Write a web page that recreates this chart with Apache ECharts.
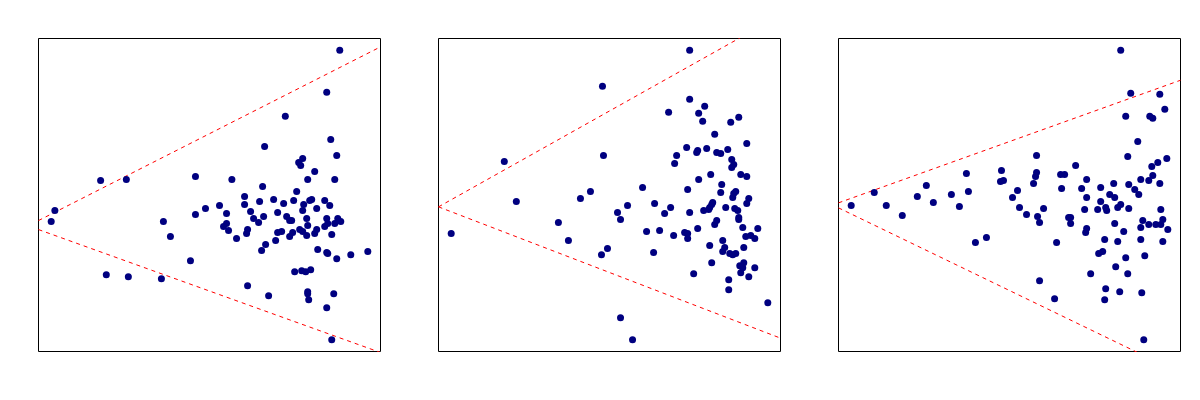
<!DOCTYPE html>
<html>
<head>
<meta charset="utf-8">
<title>funnel scatter</title>
<script src="https://cdn.jsdelivr.net/npm/echarts@6/dist/echarts.min.js"></script>
<style>
  html, body { margin: 0; padding: 0; background: #fff; }
  #chart { width: 1200px; height: 400px; }
</style>
</head>
<body>
<div id="chart"></div>
<script>
// axis ranges (shared by the three panels)
var xRange = [0, 1024]
var yRange = [0, 937]

// panel 1 points [x, y]
var panel1 = [
  [902, 902], [863, 776], [739, 704], [875, 635], [677, 614], [893, 587], [791, 578], [779, 566],
  [785, 557], [827, 539], [186, 512], [263, 515], [470, 524], [579, 515], [806, 515], [887, 515],
  [671, 494], [773, 479], [617, 464], [662, 449], [704, 455], [734, 443], [764, 452], [812, 452],
  [818, 455], [857, 452], [794, 440], [872, 437], [617, 440], [542, 437], [500, 428], [49, 422],
  [563, 413], [635, 419], [716, 416], [791, 422], [833, 428], [470, 410], [674, 404], [644, 398],
  [659, 386], [743, 404], [752, 392], [758, 392], [803, 398], [863, 398], [896, 398], [38, 389],
  [374, 389], [563, 383], [554, 374], [569, 362], [626, 365], [623, 353], [806, 377], [833, 365],
  [857, 374], [866, 383], [887, 383], [905, 389], [716, 356], [728, 359], [761, 356], [752, 344],
  [782, 365], [791, 359], [803, 347], [827, 353], [878, 350], [395, 344], [593, 338], [710, 332],
  [680, 320], [668, 302], [836, 305], [863, 296], [866, 293], [893, 278], [935, 290], [986, 299],
  [455, 272], [203, 230], [269, 224], [368, 218], [767, 239], [788, 242], [800, 239], [815, 245],
  [626, 197], [689, 167], [806, 179], [806, 173], [809, 155], [884, 173], [863, 131], [878, 35]
]

// panel 2 points [x, y]
var panel2 = [
  [752, 902], [491, 794], [752, 755], [797, 734], [689, 716], [779, 713], [899, 701], [791, 689],
  [875, 686], [827, 650], [923, 623], [743, 611], [803, 608], [776, 602], [773, 596], [833, 596],
  [845, 593], [866, 605], [713, 587], [494, 587], [197, 569], [707, 563], [878, 575], [884, 560],
  [878, 551], [905, 530], [923, 524], [815, 530], [779, 515], [848, 500], [611, 491], [746, 485],
  [455, 479], [845, 476], [890, 479], [884, 473], [881, 461], [929, 458], [923, 443], [425, 458],
  [233, 449], [647, 443], [821, 446], [818, 440], [566, 437], [695, 431], [860, 431], [812, 431],
  [809, 425], [794, 422], [887, 428], [896, 422], [536, 416], [677, 413], [752, 416], [899, 401],
  [899, 395], [545, 395], [833, 392], [827, 380], [359, 386], [911, 371], [956, 368], [776, 368],
  [662, 362], [623, 359], [737, 356], [746, 353], [746, 338], [704, 347], [920, 344], [935, 347],
  [947, 338], [38, 353], [389, 332], [851, 332], [812, 317], [857, 311], [851, 299], [914, 311],
  [506, 308], [488, 290], [644, 296], [872, 293], [881, 290], [890, 293], [914, 266], [902, 257],
  [911, 251], [905, 236], [947, 251], [929, 224], [818, 266], [764, 233], [869, 215], [869, 185],
  [986, 146], [545, 101], [581, 35]
]

// panel 3 points [x, y]
var panel3 = [
  [845, 902], [875, 773], [962, 770], [977, 725], [860, 704], [932, 704], [941, 698], [896, 629],
  [593, 587], [866, 584], [983, 578], [956, 566], [938, 554], [710, 557], [383, 533], [488, 542],
  [593, 536], [590, 524], [665, 530], [677, 530], [941, 527], [929, 512], [905, 515], [743, 515],
  [485, 509], [494, 512], [584, 503], [824, 503], [869, 500], [962, 503], [263, 497], [107, 476],
  [389, 479], [338, 470], [536, 482], [668, 488], [728, 488], [785, 491], [887, 485], [899, 470],
  [812, 470], [827, 461], [236, 464], [521, 461], [743, 461], [785, 449], [284, 446], [38, 437],
  [143, 437], [362, 434], [542, 431], [614, 428], [845, 440], [836, 431], [800, 431], [803, 422],
  [776, 425], [737, 425], [869, 428], [965, 425], [191, 407], [563, 410], [596, 404], [602, 386],
  [689, 401], [695, 401], [695, 383], [827, 383], [911, 392], [971, 395], [929, 380], [950, 380],
  [965, 380], [905, 371], [986, 365], [743, 368], [740, 356], [854, 359], [443, 341], [410, 326],
  [653, 326], [797, 335], [836, 329], [905, 335], [971, 329], [791, 299], [779, 293], [917, 287],
  [860, 281], [830, 254], [755, 233], [866, 233], [602, 212], [800, 188], [842, 179], [908, 176],
  [647, 158], [797, 155], [914, 35]
]

// dashed limit lines: [upper, lower], each from x = 0 to x = 1024
var limits1 = [[[0, 392], [1024, 912]], [[0, 365], [1024, -3]]]
var limits2 = [[[0, 433], [1024, 1007]], [[0, 433], [1024, 40]]]
var limits3 = [[[0, 445], [1024, 812]], [[0, 430], [1024, -65]]]

var panels = [panel1, panel2, panel3]
var limits = [limits1, limits2, limits3]
var lefts = [38.5, 438.5, 838.5]

var chart = echarts.init(document.getElementById('chart'))

var grids = []
var xAxes = []
var yAxes = []
var series = []
for (var i = 0; i < 3; i++) {
  // half-pixel offset keeps the 1px box crisp
  grids.push({
    left: lefts[i],
    top: 38.5,
    width: 342,
    height: 313,
    show: true,
    borderColor: '#000',
    borderWidth: 1,
    backgroundColor: '#fff'
  })
  xAxes.push({
    gridIndex: i,
    type: 'value',
    min: xRange[0],
    max: xRange[1],
    show: false,
    splitLine: { show: false }
  })
  yAxes.push({
    gridIndex: i,
    type: 'value',
    min: yRange[0],
    max: yRange[1],
    show: false,
    splitLine: { show: false }
  })
  for (var j = 0; j < 2; j++) {
    series.push({
      type: 'line',
      xAxisIndex: i,
      yAxisIndex: i,
      data: limits[i][j],
      symbol: 'none',
      clip: true,
      lineStyle: { color: '#ff0000', width: 1, type: [4, 4] },
      z: 1
    })
  }
  series.push({
    type: 'scatter',
    xAxisIndex: i,
    yAxisIndex: i,
    data: panels[i],
    symbolSize: 7,
    itemStyle: { color: '#000080', opacity: 1 },
    z: 2
  })
}

chart.setOption({
  animation: false,
  grid: grids,
  xAxis: xAxes,
  yAxis: yAxes,
  series: series
})
</script>
</body>
</html>
